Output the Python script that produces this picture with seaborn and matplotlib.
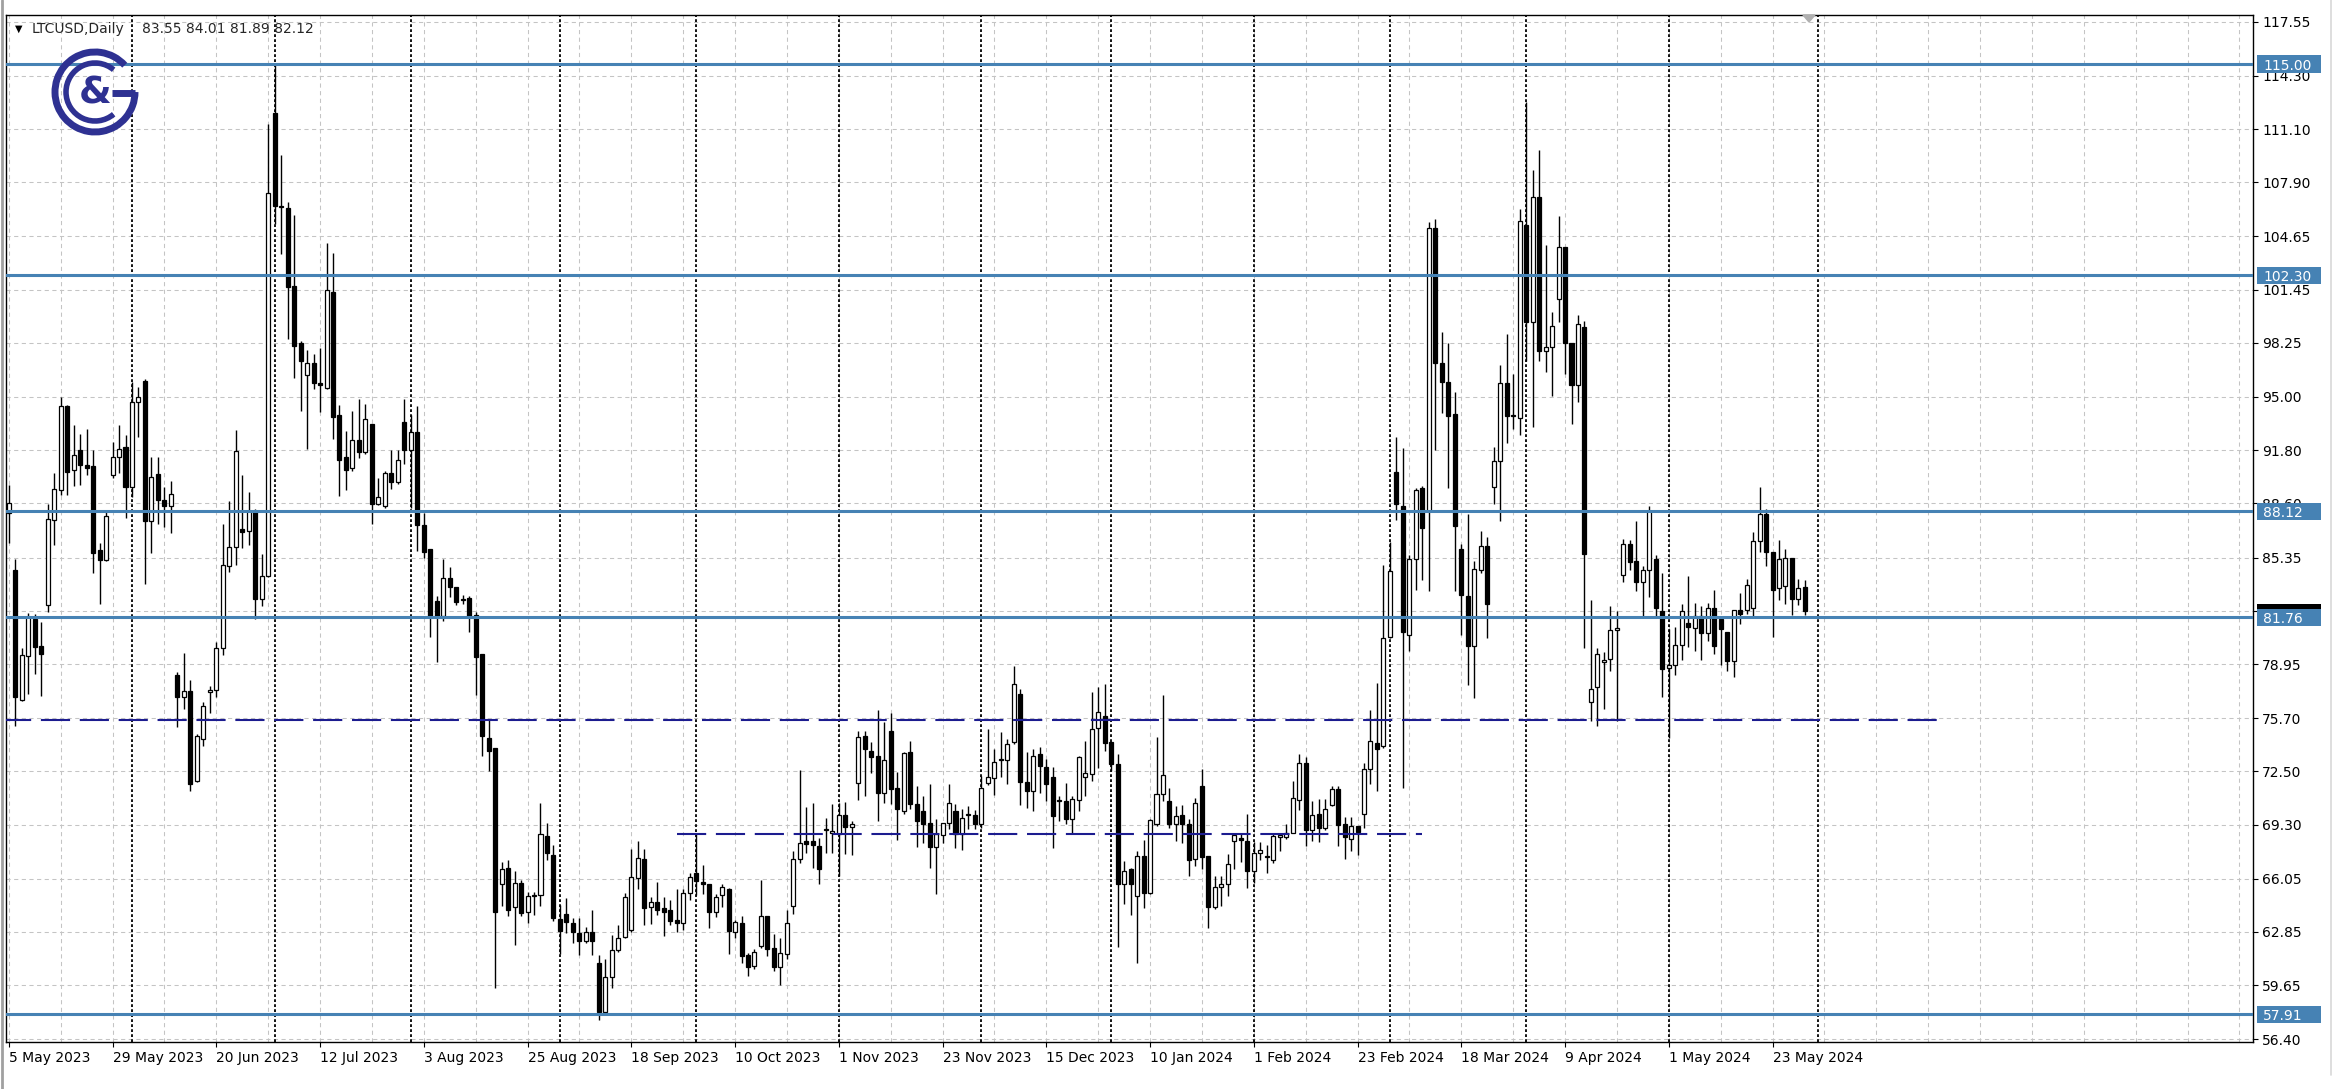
import numpy as np
import matplotlib
matplotlib.use("Agg")
import matplotlib.pyplot as plt
import matplotlib.transforms as mtransforms
from matplotlib.patches import Arc, Polygon, Rectangle
import seaborn as sns

# === LTCUSD daily candles (one bar per trading day) ===
opens = [
    88.0, 84.58, 76.8, 79.46, 81.67, 80.02, 82.47, 87.59, 89.43, 94.45,
    90.6, 91.8, 90.94, 90.84, 85.78, 85.18, 90.3, 91.4, 92.0, 89.6,
    94.7, 95.98, 87.55, 90.36, 88.8, 88.45, 78.3, 76.95, 77.35, 71.9,
    74.44, 77.3, 77.4, 79.9, 84.84, 86.0, 87.05, 86.96, 88.16, 82.88,
    84.27, 112.06, 106.5, 106.38, 101.66, 98.25, 96.3, 97.03, 95.85, 95.53,
    101.32, 93.91, 91.39, 90.72, 92.42, 91.68, 93.36, 88.56, 88.45, 90.45,
    89.9, 93.47, 91.8, 92.9, 87.32, 85.85, 82.75, 81.81, 84.1, 83.6,
    82.8, 82.89, 81.87, 79.53, 74.5, 73.88, 65.74, 66.68, 64.34, 65.82,
    64.07, 65.0, 65.07, 68.64, 67.49, 63.61, 63.94, 63.4, 62.8, 62.32,
    62.86, 60.98, 58.02, 60.12, 61.79, 62.54, 62.94, 66.11, 67.22, 64.35,
    64.67, 64.27, 64.2, 63.6, 63.4, 65.17, 66.41, 65.87, 65.75, 64.07,
    65.07, 65.41, 62.86, 63.4, 61.46, 60.79, 61.99, 63.8, 61.9, 60.73,
    61.5, 64.4, 67.22, 68.32, 68.32, 68.02, 68.95, 68.82, 68.76, 69.88,
    69.16, 71.83, 74.64, 73.74, 73.44, 71.23, 74.94, 71.53, 70.13, 73.64,
    70.53, 70.13, 69.42, 67.96, 68.68, 69.42, 70.13, 68.76, 69.88, 69.88,
    69.32, 71.83, 72.13, 73.2, 73.2, 74.24, 77.15, 71.89, 71.33, 73.54,
    72.77, 72.17, 70.77, 70.73, 69.62, 70.77, 72.17, 72.33, 75.1, 75.84,
    74.24, 72.97, 65.71, 66.61, 65.01, 67.42, 65.21, 69.32, 71.17, 70.73,
    69.36, 69.88, 69.36, 67.21, 71.63, 67.42, 64.35, 65.55, 65.71, 68.32,
    68.5, 68.33, 66.53, 67.6, 67.4, 67.2, 68.55, 68.55, 68.82, 70.76,
    72.99, 68.95, 69.95, 69.09, 70.49, 71.45, 69.36, 68.42, 69.22, 69.95,
    72.64, 74.2, 74.0, 80.59, 90.46, 88.44, 80.7, 85.27, 89.52, 88.12,
    105.16, 97.04, 95.92, 93.95, 85.89, 83.05, 80.06, 84.62, 86.06, 89.56,
    91.15, 95.81, 93.9, 93.74, 105.31, 99.51, 107.04, 97.79, 98.0, 100.88,
    103.99, 98.25, 95.71, 99.18, 76.64, 77.57, 79.1, 79.25, 81.0, 84.31,
    86.14, 85.12, 83.91, 84.62, 85.25, 82.14, 78.74, 78.92, 80.1, 81.41,
    81.13, 81.81, 80.81, 82.33, 81.67, 80.87, 79.16, 82.21, 82.17, 82.33,
    86.35, 87.99, 85.68, 83.54, 83.62, 85.34, 82.87, 83.55,
]
highs = [
    89.7, 85.28, 79.92, 82.03, 81.97, 81.47, 88.59, 90.44, 94.97, 94.5,
    93.3, 92.8, 93.1, 91.84, 86.22, 88.15, 92.3, 93.3, 92.7, 95.9,
    95.6, 96.1, 91.4, 91.4, 89.6, 89.95, 78.45, 79.6, 78.0, 74.74,
    76.65, 77.65, 80.26, 87.34, 88.72, 93.02, 90.28, 89.3, 88.27, 85.56,
    111.39, 114.96, 109.54, 106.7, 105.94, 98.36, 97.81, 97.58, 97.92, 104.26,
    103.64, 94.51, 92.95, 94.13, 94.9, 94.6, 93.4, 90.12, 90.57, 91.84,
    91.84, 94.9, 93.9, 94.46, 88.0, 85.85, 83.02, 85.25, 84.77, 83.6,
    83.08, 83.02, 82.08, 79.53, 75.63, 73.88, 67.03, 67.16, 66.49, 65.95,
    65.23, 65.23, 70.58, 69.37, 68.1, 64.47, 64.88, 63.67, 63.67, 63.13,
    64.2, 61.47, 61.23, 62.65, 63.27, 65.21, 67.82, 68.32, 67.82, 64.95,
    65.87, 64.95, 64.75, 65.41, 65.41, 66.41, 68.76, 66.87, 65.75, 65.11,
    65.75, 65.47, 63.6, 63.8, 61.6, 61.8, 65.95, 63.8, 62.74, 62.46,
    64.2, 67.72, 72.57, 70.37, 70.63, 68.52, 69.72, 70.53, 70.63, 70.69,
    69.52, 74.94, 74.94, 74.24, 76.19, 75.44, 75.99, 72.49, 73.64, 74.34,
    71.63, 71.03, 71.77, 69.62, 69.42, 71.73, 70.53, 70.23, 70.43, 70.17,
    72.23, 75.04, 73.84, 74.84, 74.44, 78.86, 77.45, 73.64, 73.84, 73.98,
    73.24, 72.77, 71.03, 71.83, 71.03, 73.44, 74.34, 77.25, 77.55, 77.75,
    74.24, 73.54, 67.11, 66.71, 67.72, 68.36, 69.62, 74.54, 77.11, 71.53,
    70.43, 70.49, 69.62, 70.93, 72.63, 67.42, 66.21, 66.21, 67.52, 68.72,
    68.82, 69.95, 68.28, 68.28, 68.07, 68.82, 68.82, 69.35, 71.91, 73.52,
    73.39, 70.7, 70.83, 70.83, 71.64, 71.64, 69.76, 69.76, 69.22, 72.99,
    76.21, 77.82, 84.89, 86.29, 92.61, 91.94, 85.49, 89.52, 89.65, 105.51,
    105.7, 98.93, 98.25, 95.3, 86.16, 87.96, 85.12, 86.95, 86.59, 92.01,
    96.9, 98.8, 96.4, 106.28, 112.74, 108.63, 109.82, 104.12, 100.12, 105.9,
    103.99, 98.25, 99.94, 99.56, 82.79, 79.93, 79.68, 82.46, 82.13, 86.44,
    86.39, 87.53, 84.82, 88.42, 85.5, 84.41, 81.07, 81.2, 82.54, 84.22,
    82.61, 82.41, 82.61, 83.42, 81.81, 80.87, 82.21, 83.22, 84.08, 86.89,
    89.56, 88.29, 85.68, 86.43, 85.88, 85.34, 84.08, 84.01,
]
lows = [
    86.2, 75.24, 76.75, 77.15, 78.35, 77.05, 82.07, 86.08, 89.09, 89.09,
    89.63, 89.69, 90.3, 84.43, 82.57, 85.12, 90.1, 90.4, 87.75, 89.0,
    92.6, 83.77, 85.6, 87.35, 87.2, 86.8, 75.18, 76.25, 71.33, 71.85,
    74.04, 75.98, 77.0, 79.5, 84.5, 84.89, 85.9, 86.1, 81.66, 82.44,
    84.2, 105.37, 103.6, 98.5, 96.13, 94.13, 91.9, 95.47, 94.07, 95.47,
    92.46, 89.07, 89.4, 90.56, 91.35, 91.57, 87.38, 88.5, 88.34, 89.45,
    89.79, 90.95, 88.34, 85.75, 85.3, 80.6, 79.05, 81.55, 82.97, 82.49,
    82.54, 80.87, 77.11, 73.4, 72.54, 59.5, 64.42, 63.8, 62.06, 63.8,
    63.4, 63.9, 64.42, 67.16, 63.53, 61.52, 62.8, 62.19, 61.47, 62.2,
    61.47, 57.55, 57.89, 59.5, 61.65, 62.5, 62.86, 65.41, 63.3, 63.34,
    63.87, 62.6, 63.26, 62.86, 62.94, 64.75, 65.07, 65.11, 63.06, 63.74,
    64.35, 61.54, 62.46, 61.0, 60.19, 60.65, 61.86, 61.4, 60.53, 59.65,
    61.2, 63.95, 67.02, 67.62, 66.72, 65.75, 67.62, 67.62, 66.21, 67.52,
    67.48, 70.77, 71.03, 72.43, 69.52, 70.63, 70.53, 68.36, 69.92, 70.23,
    67.96, 68.22, 66.67, 65.11, 68.22, 69.02, 67.88, 67.76, 69.02, 69.02,
    69.12, 71.69, 71.09, 72.17, 71.73, 74.14, 70.49, 70.33, 70.13, 71.23,
    70.73, 67.88, 69.52, 69.32, 68.82, 70.13, 71.03, 71.93, 72.73, 73.74,
    72.53, 61.94, 64.51, 63.9, 61.0, 64.31, 65.11, 69.22, 70.73, 69.12,
    68.32, 68.22, 66.21, 66.81, 66.61, 63.06, 64.21, 64.41, 65.01, 66.61,
    67.07, 65.5, 65.8, 67.2, 66.4, 66.99, 67.74, 68.42, 68.82, 70.17,
    68.0, 68.33, 68.28, 68.95, 70.43, 68.0, 67.26, 67.74, 67.47, 69.09,
    71.77, 71.3, 73.93, 80.51, 87.58, 71.51, 79.71, 83.39, 84.01, 83.33,
    91.8, 94.03, 89.52, 83.33, 80.7, 77.72, 76.89, 84.41, 80.51, 88.54,
    87.53, 92.22, 93.1, 92.72, 97.16, 93.18, 97.16, 96.52, 95.05, 99.51,
    96.4, 93.36, 94.7, 79.93, 75.55, 75.25, 76.26, 78.54, 75.55, 83.86,
    84.62, 83.35, 81.7, 82.97, 81.7, 76.98, 74.5, 78.28, 79.17, 79.96,
    79.76, 79.2, 80.33, 79.56, 78.92, 78.52, 78.2, 81.33, 81.97, 81.73,
    85.68, 84.82, 80.57, 82.77, 82.57, 81.87, 82.47, 81.89,
]
closes = [
    88.6, 76.95, 79.5, 81.77, 79.96, 79.56, 87.69, 89.49, 94.45, 90.5,
    91.5, 90.9, 90.76, 85.62, 85.22, 87.83, 91.4, 91.9, 89.6, 94.7,
    95.0, 87.55, 90.16, 88.83, 88.45, 89.15, 76.95, 77.35, 71.77, 74.64,
    76.45, 77.4, 79.9, 84.89, 86.0, 91.75, 86.9, 88.12, 82.88, 84.27,
    107.27, 106.49, 106.4, 101.6, 98.07, 97.14, 97.03, 95.85, 95.7, 101.41,
    93.8, 91.24, 90.63, 92.42, 91.68, 93.69, 88.56, 89.0, 90.45, 89.9,
    91.24, 91.8, 92.9, 87.33, 85.71, 81.81, 81.81, 84.1, 83.6, 82.67,
    82.8, 81.81, 79.39, 74.64, 73.75, 64.07, 66.63, 64.2, 65.82, 63.99,
    65.0, 65.1, 68.72, 67.57, 63.67, 62.92, 63.45, 62.86, 62.32, 62.86,
    62.32, 58.02, 60.17, 61.79, 62.49, 64.97, 66.15, 67.32, 64.31, 64.67,
    64.15, 64.07, 63.54, 63.4, 65.21, 66.15, 65.91, 65.75, 64.07, 64.95,
    65.55, 62.9, 63.46, 61.4, 60.73, 61.66, 63.8, 61.8, 60.73, 61.6,
    63.4, 67.22, 68.22, 68.16, 68.08, 66.61, 69.0, 68.85, 69.88, 69.16,
    69.36, 74.54, 73.84, 73.34, 71.23, 73.18, 71.43, 70.23, 73.58, 70.53,
    69.52, 69.32, 67.96, 68.76, 69.42, 70.63, 68.76, 69.72, 69.9, 69.32,
    71.53, 72.17, 73.04, 73.22, 74.14, 77.75, 71.89, 71.33, 73.44, 72.83,
    71.73, 69.82, 70.73, 69.62, 70.83, 73.38, 72.43, 75.04, 76.05, 74.18,
    72.93, 65.71, 66.51, 65.71, 67.42, 65.21, 69.56, 71.17, 72.29, 69.32,
    69.82, 69.36, 67.15, 70.63, 67.36, 64.35, 65.55, 65.75, 66.95, 68.68,
    68.4, 66.53, 67.61, 67.8, 67.35, 68.6, 68.65, 68.82, 70.92, 72.99,
    68.95, 69.9, 69.09, 70.22, 71.45, 69.3, 68.55, 69.22, 68.87, 72.64,
    74.33, 73.87, 80.51, 84.54, 88.58, 80.86, 85.27, 89.38, 87.1, 105.16,
    97.04, 95.92, 93.87, 87.23, 83.12, 80.06, 84.67, 86.06, 82.54, 91.15,
    95.81, 93.86, 93.84, 105.59, 99.51, 107.04, 97.79, 98.0, 99.26, 103.99,
    98.25, 95.71, 99.36, 85.58, 77.47, 79.57, 79.1, 81.02, 81.12, 86.18,
    85.08, 83.91, 84.62, 88.17, 82.34, 78.66, 78.9, 80.11, 82.14, 81.17,
    81.83, 80.81, 82.33, 80.06, 81.07, 79.16, 82.21, 81.93, 83.68, 86.35,
    87.99, 85.68, 83.42, 85.28, 85.34, 82.87, 83.54, 82.12,
]

date_labels = ["5 May 2023", "29 May 2023", "20 Jun 2023", "12 Jul 2023",
               "3 Aug 2023", "25 Aug 2023", "18 Sep 2023", "10 Oct 2023",
               "1 Nov 2023", "23 Nov 2023", "15 Dec 2023", "10 Jan 2024",
               "1 Feb 2024", "23 Feb 2024", "18 Mar 2024", "9 Apr 2024",
               "1 May 2024", "23 May 2024"]
price_labels = ["56.40", "59.65", "62.85", "66.05", "69.30", "72.50", "75.70",
                "78.95", "82.15", "85.35", "88.60", "91.80", "95.00", "98.25",
                "101.45", "104.65", "107.90", "111.10", "114.30", "117.55"]
# first bar of each month (bar index)
month_starts = [19, 41, 62, 85, 106, 128, 150, 170, 192, 213, 234, 256, 279]

levels = [115.00, 102.30, 88.12, 81.76, 57.91]
support_upper = 75.57
support_upper_span = (-1, 298)
support_lower = 68.76
support_lower_span = (103, 218)
last_price = 82.12
title_ohlc = "83.55 84.01 81.89 82.12"

LEVEL_BLUE = "#4682B4"
DASH_BLUE = "#1C1C8F"
LOGO_BLUE = "#2E3192"
GRID_GREY = "#C4C4C4"

sns.set_theme(style="white")
plt.rcParams['font.family'] = ['DejaVu Sans']
plt.rcParams['lines.scale_dashes'] = False

W, H = 2335, 1089
fig = plt.figure(figsize=(W / 100, H / 100), dpi=100)
fig.patch.set_facecolor("white")
ax = fig.add_axes([6 / W, 1 - 1042 / H, (2253 - 6) / W, (1042 - 15) / H])
ax.set_facecolor("white")

x = np.arange(len(opens))
o = np.array(opens)
c = np.array(closes)
bull = c >= o
bottoms = np.minimum(o, c)
heights = np.maximum(np.abs(c - o), 0.07)
fills = np.where(bull, "white", "black")

# wicks then bodies
ax.vlines(x, lows, highs, color="black", lw=1.0, zorder=3)
ax.bar(x, heights, bottom=bottoms, width=0.62, color=fills,
       edgecolor="black", linewidth=0.9, zorder=3.5)

# month separators
for m in month_starts:
    ax.axvline(m, color="black", lw=1.3, linestyle=(0, (2, 1.6)), zorder=1.8)

# horizontal levels
for lv in levels:
    ax.axhline(lv, color=LEVEL_BLUE, lw=2.2, zorder=4)
ax.plot(support_upper_span, [support_upper] * 2, color=DASH_BLUE, lw=1.5,
        linestyle=(0, (21, 7)), zorder=4)
ax.plot(support_lower_span, [support_lower] * 2, color=DASH_BLUE, lw=1.5,
        linestyle=(0, (21, 7)), zorder=4)

ax.set_xlim(-0.43, 346.1)
ax.set_ylim(56.24, 117.95)

# axes / ticks (MT4 style: prices on the right, dates left-aligned)
ax.yaxis.tick_right()
ax.set_yticks([float(s) for s in price_labels])
ax.set_yticklabels(price_labels)
ax.tick_params(axis="y", which="major", right=True, left=False, length=3.6,
               width=0.8, pad=3, labelsize=10, colors="black")
ax.set_xticks(range(0, 16 * len(date_labels), 16))
ax.set_xticklabels(date_labels, ha="left")
ax.set_xticks(range(0, 347, 8), minor=True)
ax.tick_params(axis="x", which="major", bottom=True, length=3.6, width=0.8,
               pad=3, labelsize=10, colors="black")
ax.tick_params(axis="x", which="minor", bottom=False, length=0)
ax.set_axisbelow(True)
ax.grid(True, which="both", axis="x", color=GRID_GREY, lw=0.75,
        linestyle=(0, (3, 2.5)))
ax.grid(True, which="major", axis="y", color=GRID_GREY, lw=0.75,
        linestyle=(0, (3, 2.5)))
for sp in ax.spines.values():
    sp.set_color("black")
    sp.set_linewidth(1.0)

# price boxes on the axis; the black bid box sits mostly under the 81.76 box
trans = mtransforms.blended_transform_factory(ax.transAxes, ax.transData)
span_px = 2253 - 6
xt = (2263 - 6) / span_px
box_left = (2257 - 6) / span_px
box_w = (2321 - 2257) / span_px
box_h = 0.52  # half height in price units (~17 px box)
ax.add_patch(Rectangle((box_left, last_price - 0.42), box_w, 0.84,
                       transform=trans, facecolor="black", edgecolor="none",
                       zorder=5.5, clip_on=False))
for lv in levels:
    ax.add_patch(Rectangle((box_left, lv - box_h), box_w, 2 * box_h,
                           transform=trans, facecolor=LEVEL_BLUE,
                           edgecolor="none", zorder=5.8, clip_on=False))
    ax.text(xt, lv, f"{lv:.2f}", transform=trans, ha="left",
            va="center_baseline", fontsize=10, color="white", zorder=6,
            clip_on=False)

# overlay in pixel coordinates: title, logo, frame bits
ov = fig.add_axes([0, 0, 1, 1], zorder=10)
ov.set_xlim(0, W)
ov.set_ylim(H, 0)
ov.axis("off")
ov.patch.set_alpha(0)

ov.text(15, 29, "\u25BC", fontsize=7, va="center", ha="left", color="black")
ov.text(32, 29, "LTCUSD,Daily", fontsize=10, va="center", ha="left")
ov.text(142, 29, title_ohlc, fontsize=10, va="center", ha="left")

ov.add_patch(Arc((95, 92), 80, 80, theta1=0, theta2=318, lw=5, color=LOGO_BLUE))
ov.plot([112, 135], [93, 93], color=LOGO_BLUE, lw=5, solid_capstyle="butt")
ov.add_patch(Arc((95, 92), 58, 58, theta1=50, theta2=310, lw=4, color=LOGO_BLUE))
ov.text(95, 94, "&", fontsize=27, fontweight="bold", color=LOGO_BLUE,
        ha="center", va="center")

ov.plot([1.5, 1.5], [0, H], color="#A0A0A0", lw=2)
ov.plot([2331, 2331], [0, 1075], color="#D8D8D8", lw=1.2)
ov.add_patch(Polygon([[1803, 15], [1815, 15], [1809, 22]], closed=True,
                     color="#B0B0B0"))

fig.savefig("out.png", dpi=100)
